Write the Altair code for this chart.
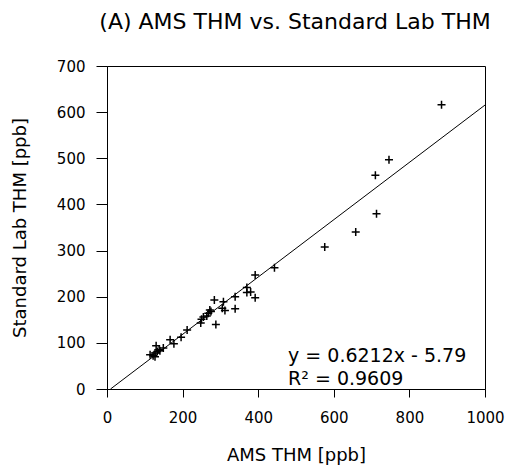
import altair as alt
import pandas as pd

ams_thm = [885, 746, 710, 713, 658, 576, 443, 392, 370, 370, 380, 392, 339, 339,
           284, 308, 305, 312, 288, 272, 275, 268, 264, 255, 250, 248, 212, 196,
           177, 167, 149, 138, 130, 133, 127, 122, 114, 127, 140]
lab_thm = [616, 497, 463, 380, 340, 308, 263, 247, 220, 209, 210, 198, 200, 174,
           193, 189, 175, 170, 140, 171, 168, 164, 158, 156, 151, 143, 128, 112,
           98, 107, 89, 85, 94, 81, 78, 72, 74, 70, 83]

slope = 0.6212
intercept = -5.79
line_x = [-intercept / slope, 1000]
line_y = [slope * v + intercept for v in line_x]

eq_text = ["y = 0.6212x - 5.79", "R² = 0.9609"]
eq_x = [479, 479]
eq_y = [59, 9]

FONT = "DejaVu Sans"

pts = pd.DataFrame({"ams": ams_thm, "lab": lab_thm})
ln = pd.DataFrame({"ams": line_x, "lab": line_y})
ann = pd.DataFrame({"t": eq_text, "x": eq_x, "y": eq_y})

xscale = alt.Scale(domain=[0, 1000], nice=False, zero=False)
yscale = alt.Scale(domain=[0, 700], nice=False, zero=False)

xaxis = alt.Axis(title="AMS THM [ppb]", values=[0, 200, 400, 600, 800, 1000], format="d",
                 grid=False, tickSize=8, labelPadding=13, titlePadding=21,
                 labelFontSize=15, titleFontSize=18, labelFont=FONT, titleFont=FONT,
                 titleFontWeight="normal", domainColor="black", tickColor="black",
                 labelColor="black", titleColor="black", labelFlush=False)
yaxis = alt.Axis(title="Standard Lab THM [ppb]", values=[0, 100, 200, 300, 400, 500, 600, 700],
                 format="d", grid=False, tickSize=11, labelPadding=11, titlePadding=27,
                 labelFontSize=15, titleFontSize=18, labelFont=FONT, titleFont=FONT,
                 titleFontWeight="normal", domainColor="black", tickColor="black",
                 labelColor="black", titleColor="black", labelFlush=False)

points = alt.Chart(pts).mark_point(
    shape="M-1,0L1,0M0,-1L0,1", size=64, color="black", strokeWidth=1.5,
    filled=False, opacity=1
).encode(
    x=alt.X("ams:Q", scale=xscale, axis=xaxis),
    y=alt.Y("lab:Q", scale=yscale, axis=yaxis),
)

trend = alt.Chart(ln).mark_line(color="black", strokeWidth=1).encode(
    x=alt.X("ams:Q", scale=xscale),
    y=alt.Y("lab:Q", scale=yscale),
)

text = alt.Chart(ann).mark_text(
    align="left", baseline="alphabetic", font=FONT, fontSize=19, color="black"
).encode(
    x=alt.X("x:Q", scale=xscale),
    y=alt.Y("y:Q", scale=yscale),
    text="t:N",
)

chart = alt.layer(trend, points, text).properties(
    width=378, height=323,
    title=alt.TitleParams("(A) AMS THM vs. Standard Lab THM", font=FONT, fontSize=22,
                          fontWeight="normal", color="black", anchor="middle", dx=-1,
                          offset=25),
    autosize=alt.AutoSizeParams(type="none"),
    padding={"left": 99, "top": 58, "right": 30, "bottom": 82},
).configure_view(stroke="black", strokeWidth=1)

chart.save("out.html", embed_options={"renderer": "svg", "actions": False})
